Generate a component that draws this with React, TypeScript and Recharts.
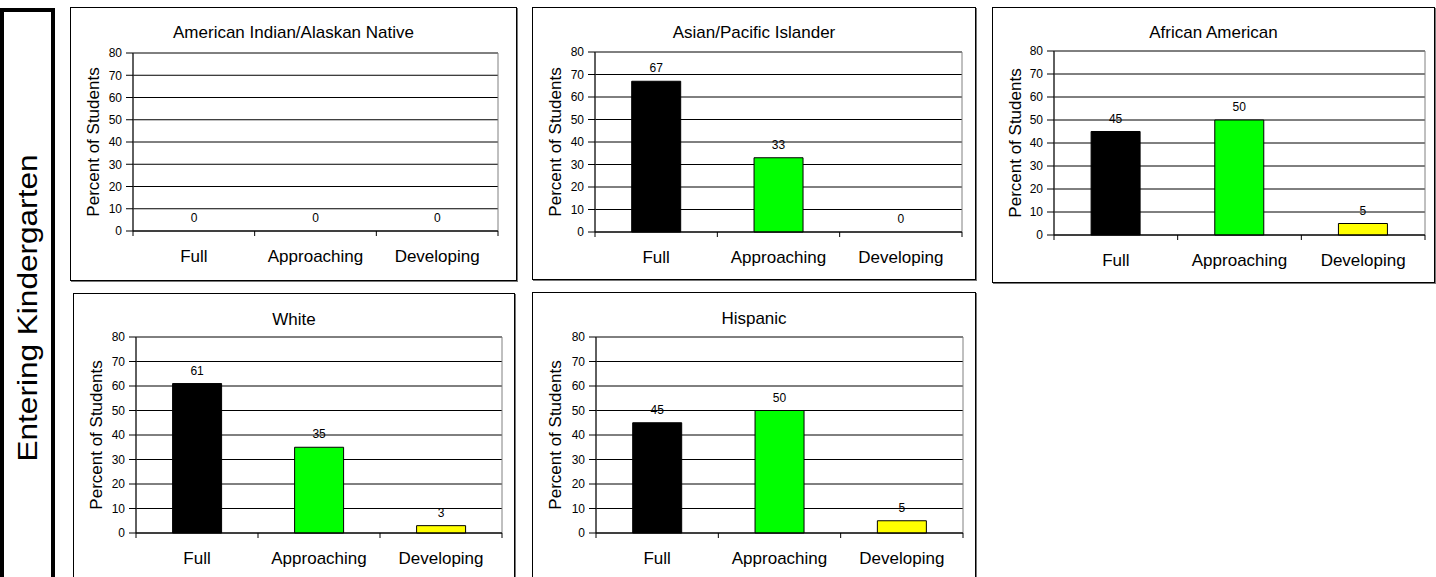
import React from 'react';
import { BarChart, Bar, XAxis, YAxis, CartesianGrid, Cell, LabelList, ReferenceArea } from 'recharts';

const categories = ['Full', 'Approaching', 'Developing'];
const americanIndianValues = [0, 0, 0];
const asianPacificValues = [67, 33, 0];
const africanAmericanValues = [45, 50, 5];
const whiteValues = [61, 35, 3];
const hispanicValues = [45, 50, 5];
const yTicks = [0, 10, 20, 30, 40, 50, 60, 70, 80];
const barColors = ['#000000', '#00FF00', '#FFFF00'];
const sideTitle = 'Entering Kindergarten';
const yAxisTitle = 'Percent of Students';

const FONT = '"Liberation Sans", Arial, Helvetica, sans-serif';

type Box = { x: number; y: number; w: number; h: number };
type Plot = { l: number; t: number; r: number; b: number };

function CategoryTick(props: any) {
  const { x, y, payload, half } = props;
  const off = payload && payload.offset > 0 ? payload.offset : half;
  const isLast = payload.value === categories[categories.length - 1];
  return (
    <g>
      <line x1={x - off} x2={x - off} y1={y} y2={y + 5} stroke="#000" strokeWidth={1} />
      {isLast && <line x1={x + off} x2={x + off} y1={y} y2={y + 5} stroke="#000" strokeWidth={1} />}
      <text x={x} y={y + 31} textAnchor="middle" fontSize={17} fontFamily={FONT} fill="#000">
        {payload.value}
      </text>
    </g>
  );
}

function Panel({ title, values, box, plot, titleY }: { title: string; values: number[]; box: Box; plot: Plot; titleY: number }) {
  const data = categories.map((c, i) => ({ category: c, value: values[i] }));
  const B = 1;
  const cw = box.w - 2 * B;
  const ch = box.h - 2 * B;
  const ox = box.x + B;
  const oy = box.y + B;
  const left = plot.l - ox;
  const top = plot.t - oy;
  const right = ox + cw - plot.r;
  const xAxisH = oy + ch - plot.b;
  const half = (plot.r - plot.l) / categories.length / 2;
  const cy = top + (plot.b - plot.t) / 2;
  return (
    <div
      style={{
        position: 'absolute',
        left: box.x,
        top: box.y,
        width: box.w,
        height: box.h,
        border: '1px solid #000',
        boxSizing: 'border-box',
        boxShadow: '1px 1px 0 #777',
        background: '#fff',
        overflow: 'hidden',
      }}
    >
      <BarChart
        width={cw}
        height={ch}
        data={data}
        margin={{ top, right, bottom: 0, left: 0 }}
        barCategoryGap="30%"
      >
        <CartesianGrid vertical={false} stroke="#000" strokeWidth={1} />
        <ReferenceArea y1={0} y2={80} fill="none" fillOpacity={0} stroke="#808080" strokeWidth={1} ifOverflow="visible" />
        <XAxis
          dataKey="category"
          height={xAxisH}
          interval={0}
          tickLine={false}
          tickSize={0}
          tickMargin={0}
          axisLine={{ stroke: '#000', strokeWidth: 1 }}
          tick={(p: any) => <CategoryTick {...p} half={half} />}
        />
        <YAxis
          width={left}
          domain={[0, 80]}
          ticks={yTicks}
          interval={0}
          tickSize={7}
          tickMargin={4}
          axisLine={{ stroke: '#000', strokeWidth: 1 }}
          tickLine={{ stroke: '#000', strokeWidth: 1 }}
          tick={{ fill: '#000', fontSize: 12, fontFamily: FONT }}
          label={{
            content: () => (
              <text
                x={28}
                y={cy}
                transform={`rotate(-90, 28, ${cy})`}
                textAnchor="middle"
                fontSize={17}
                fontFamily={FONT}
                fill="#000"
              >
                {yAxisTitle}
              </text>
            ),
          }}
        />
        <Bar
          dataKey="value"
          isAnimationActive={false}
          stroke="#000"
          strokeWidth={1}
          minPointSize={(v: number) => (v === 0 ? 0.01 : 0)}
        >
          {data.map((d, i) => (
            <Cell key={d.category} fill={barColors[i]} stroke={d.value === 0 ? 'none' : '#000'} />
          ))}
          <LabelList dataKey="value" position="top" offset={9} fill="#000" fontSize={12} fontFamily={FONT} />
        </Bar>
      </BarChart>
      <div
        style={{
          position: 'absolute',
          left: 0,
          width: '100%',
          top: titleY - oy - 10,
          textAlign: 'center',
          fontFamily: FONT,
          fontSize: 17,
          lineHeight: '20px',
          color: '#000',
          whiteSpace: 'nowrap',
        }}
      >
        {title}
      </div>
    </div>
  );
}

export default function App() {
  return (
    <div
      style={{
        position: 'fixed',
        left: 0,
        top: 0,
        width: 1436,
        height: 577,
        overflow: 'hidden',
        background: '#fff',
      }}
    >
      <svg style={{ position: 'absolute', left: 0, top: 0 }} width={60} height={577}>
        <rect x={2} y={10} width={51} height={600} fill="#fff" stroke="#000" strokeWidth={4} />
        <text
          x={37}
          y={308}
          transform="rotate(-90, 37, 308)"
          textAnchor="middle"
          fontSize={27}
          fontFamily={FONT}
          fill="#000"
          textLength={307}
          lengthAdjust="spacingAndGlyphs"
        >
          {sideTitle}
        </text>
      </svg>
      <Panel
        title="American Indian/Alaskan Native"
        values={americanIndianValues}
        box={{ x: 70, y: 7, w: 447, h: 274 }}
        plot={{ l: 133, t: 53, r: 498, b: 231 }}
        titleY={33}
      />
      <Panel
        title="Asian/Pacific Islander"
        values={asianPacificValues}
        box={{ x: 532, y: 7, w: 444, h: 273 }}
        plot={{ l: 595, t: 52, r: 962, b: 232 }}
        titleY={33}
      />
      <Panel
        title="African American"
        values={africanAmericanValues}
        box={{ x: 992, y: 7, w: 443, h: 276 }}
        plot={{ l: 1054, t: 51, r: 1425, b: 235 }}
        titleY={33}
      />
      <Panel
        title="White"
        values={whiteValues}
        box={{ x: 73, y: 293, w: 442, h: 300 }}
        plot={{ l: 136, t: 337, r: 502, b: 533 }}
        titleY={320}
      />
      <Panel
        title="Hispanic"
        values={hispanicValues}
        box={{ x: 532, y: 292, w: 444, h: 300 }}
        plot={{ l: 596, t: 337, r: 963, b: 533 }}
        titleY={319}
      />
    </div>
  );
}
